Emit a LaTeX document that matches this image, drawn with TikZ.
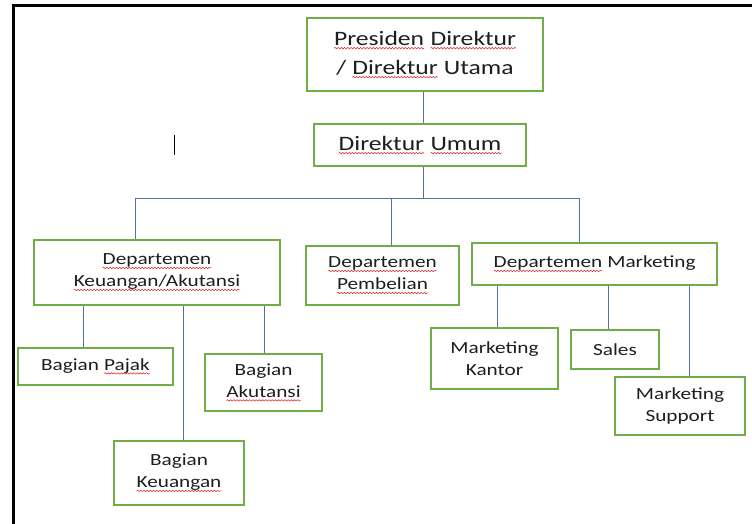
\documentclass[tikz,border=0pt]{standalone}
\usepackage{fontspec}
\setmainfont{Carlito}[FakeStretch=1.25]
\usetikzlibrary{decorations.pathmorphing}
\definecolor{boxgreen}{RGB}{112,173,71}
\definecolor{linkblue}{RGB}{84,114,160}
\definecolor{wavered}{RGB}{222,40,40}
\definecolor{txt}{RGB}{30,30,30}
\newcommand\rw[1]{\tikz[baseline=(w.base), x=1pt, y=1pt]{\node[inner sep=0pt, outer sep=0pt, minimum width=0pt, minimum height=0pt, align=none, text=txt] (w) {#1};
  \draw[wavered, line width=0.55pt, decorate, decoration={snake, amplitude=0.7pt, segment length=3.2pt}] ([yshift=-3pt]w.base west) -- ([yshift=-3pt]w.base east);}}
\begin{document}
\begin{tikzpicture}[x=1pt,y=-1pt,
  box/.style={draw=boxgreen, line width=2.6pt, fill=white, align=center, inner sep=0pt, text=txt},
  bigtext/.style={font=\fontsize{20.5}{29}\selectfont},
  smalltext/.style={font=\fontsize{17}{22}\selectfont},
  link/.style={draw=linkblue, line width=0.9pt}]
\useasboundingbox (0,0) rectangle (752,524);
\fill[white] (0,0) rectangle (752,524);
% frame
\draw[line width=3pt, line cap=rect] (752,5.8) -- (13.5,5.8) -- (13.5,524);
% cursor
\draw[line width=1pt, black] (174,135) -- (174,155);
% nodes
\node[box, bigtext, minimum width=236pt, minimum height=73pt] (pres) at (425,54.5) {\rw{Presiden} \rw{Direktur}\\/ \rw{Direktur} Utama};
\node[box, bigtext, minimum width=212pt, minimum height=42pt] (du) at (420,145) {\rw{Direktur} \rw{Umum}};
\node[box, smalltext, minimum width=246pt, minimum height=65pt] (keu) at (157,272.5) {\rw{Departemen}\\\rw{Keuangan/Akutansi}};
\node[box, smalltext, minimum width=153pt, minimum height=59pt] (pemb) at (382.5,275.5) {\rw{Departemen}\\\rw{Pembelian}};
\node[box, smalltext, minimum width=245pt, minimum height=42pt] (mkt) at (594.5,264) {\rw{Departemen} Marketing};
\node[box, smalltext, minimum width=155pt, minimum height=37pt] (pajak) at (95.5,366.5) {Bagian \rw{Pajak}};
\node[box, smalltext, minimum width=117pt, minimum height=57pt] (akut) at (263.5,382.5) {Bagian\\\rw{Akutansi}};
\node[box, smalltext, minimum width=130pt, minimum height=64pt] (bkeu) at (179,473) {Bagian\\\rw{Keuangan}};
\node[box, smalltext, minimum width=127pt, minimum height=61pt] (kantor) at (494.5,358.5) {Marketing\\Kantor};
\node[box, smalltext, minimum width=88pt, minimum height=39pt] (sales) at (615,349.5) {Sales};
\node[box, smalltext, minimum width=130pt, minimum height=58pt] (supp) at (680,406) {Marketing\\Support};
% connector columns
\coordinate (c0) at (423,0);
\coordinate (bus) at (423,198);
\coordinate (bl) at (135,198);
\coordinate (bm) at (391,198);
\coordinate (br) at (579,198);
\coordinate (k1) at (83,0);
\coordinate (k2) at (183,0);
\coordinate (k3) at (264,0);
\coordinate (m1) at (497,0);
\coordinate (m2) at (608,0);
\coordinate (m3) at (689,0);
% connectors
\draw[link] (pres.south -| c0) -- (du.north -| c0);
\draw[link] (du.south -| c0) -- (bus);
\draw[link] (bl) -- (br);
\draw[link] (bl) -- (keu.north -| bl);
\draw[link] (bm) -- (pemb.north -| bm);
\draw[link] (br) -- (mkt.north -| br);
\draw[link] (keu.south -| k1) -- (pajak.north -| k1);
\draw[link] (keu.south -| k2) -- (bkeu.north -| k2);
\draw[link] (keu.south -| k3) -- (akut.north -| k3);
\draw[link] (mkt.south -| m1) -- (kantor.north -| m1);
\draw[link] (mkt.south -| m2) -- (sales.north -| m2);
\draw[link] (mkt.south -| m3) -- (supp.north -| m3);
\end{tikzpicture}
\end{document}
